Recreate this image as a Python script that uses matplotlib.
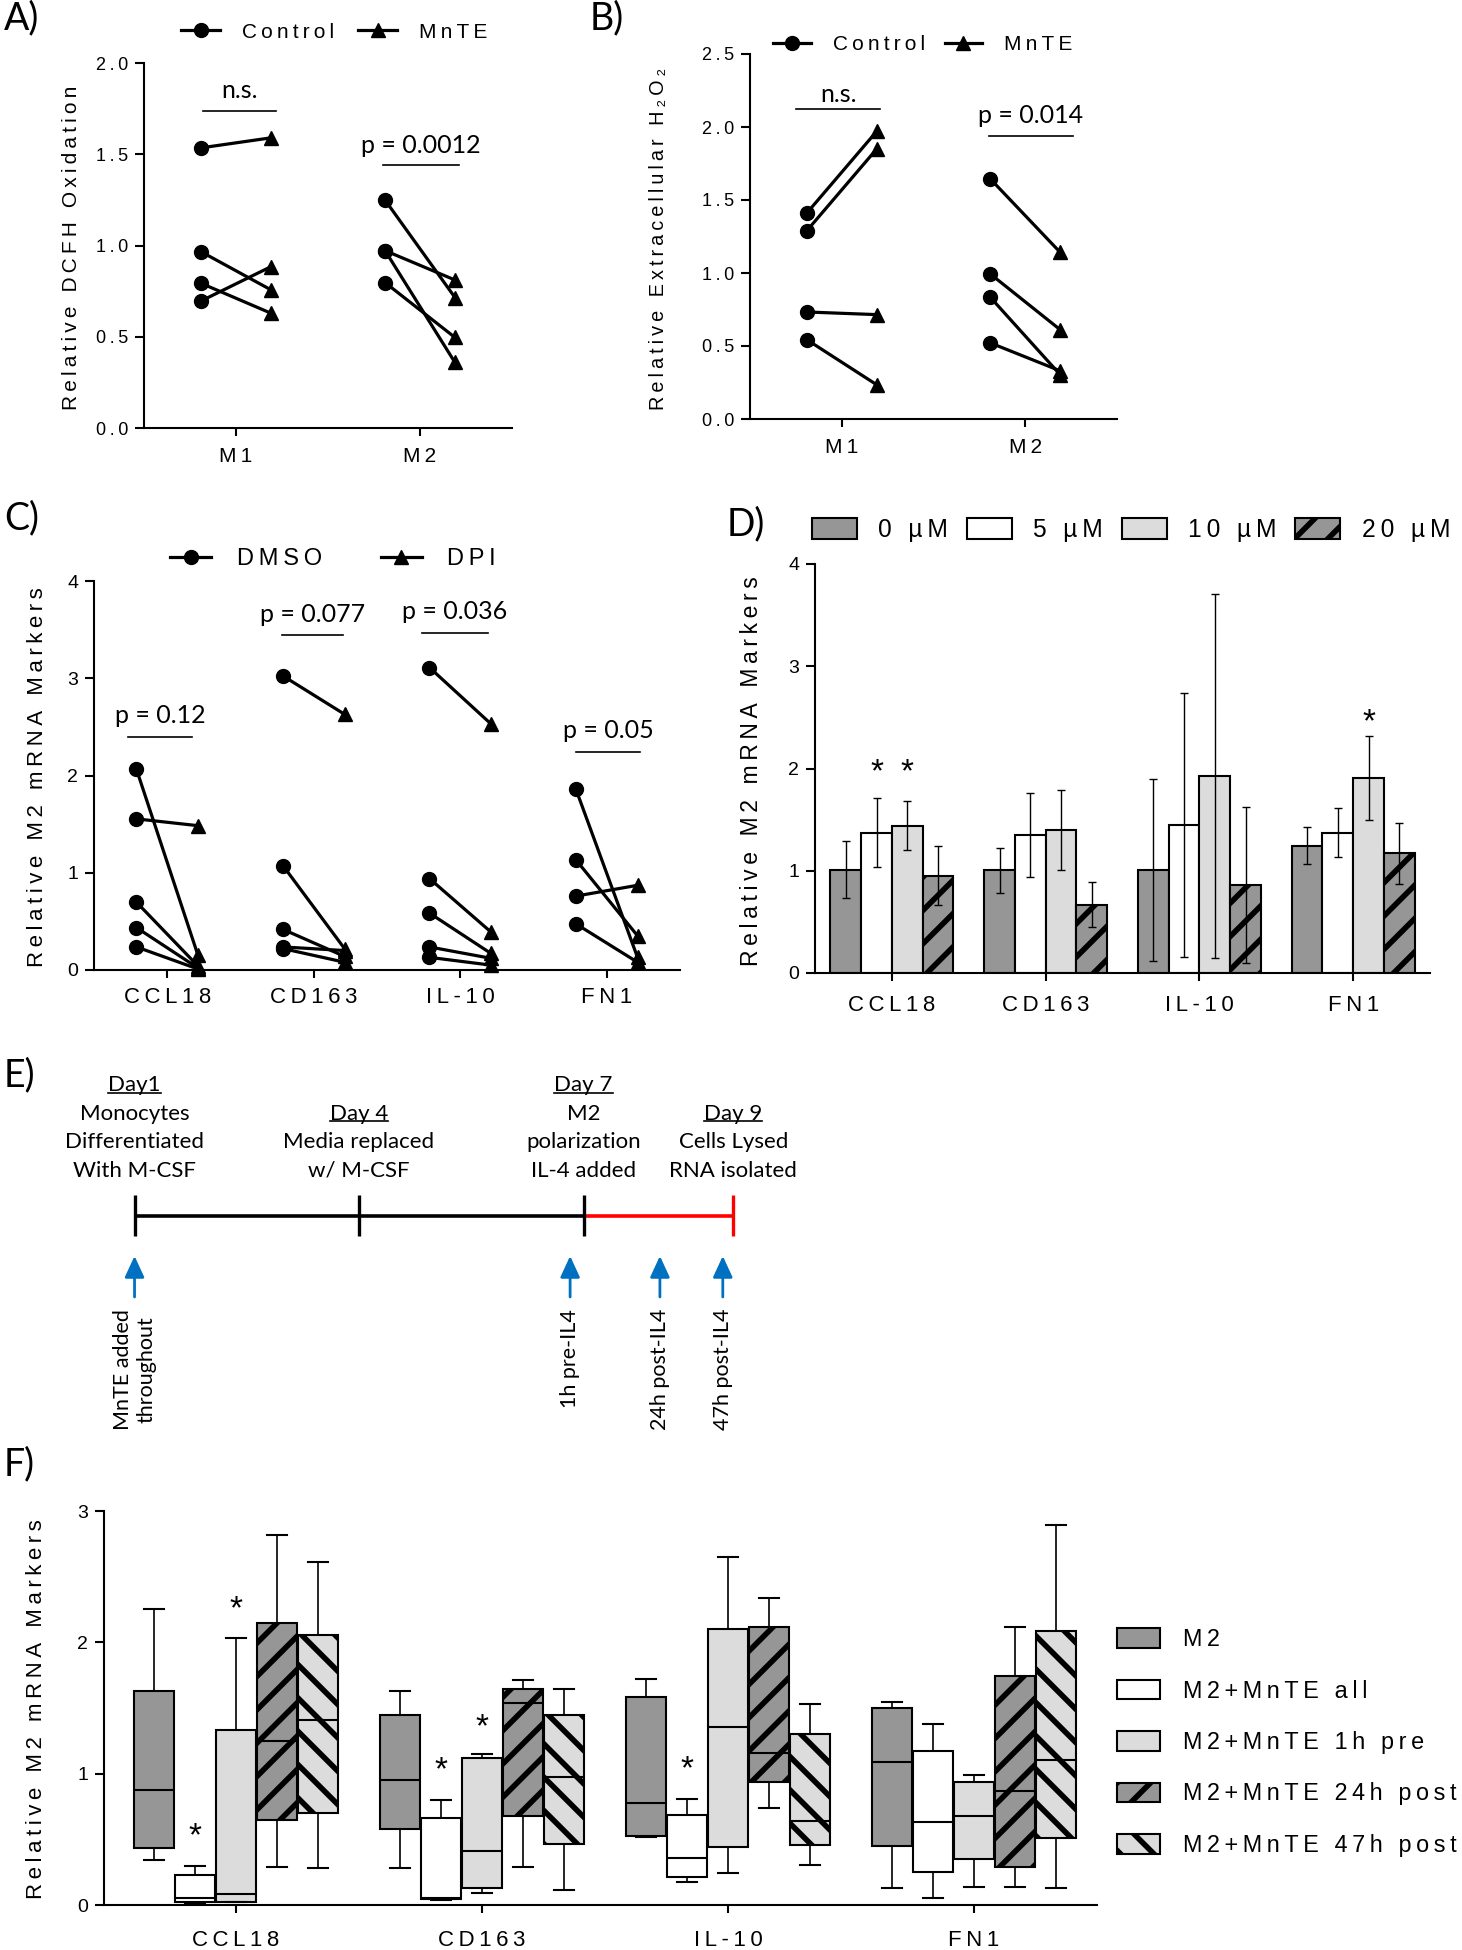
import matplotlib
matplotlib.use("Agg")
import matplotlib.pyplot as plt
import numpy as np
from matplotlib.lines import Line2D
from matplotlib.patches import Patch

# ---- data -------------------------------------------------------------
# A) DCFH oxidation, paired Control -> MnTE
A_groups = ["M1", "M2"]
A_ctrl = [[1.535, 0.966, 0.793, 0.696], [1.249, 0.972, 0.972, 0.797]]
A_mnte = [[1.59, 0.757, 0.629, 0.884], [0.715, 0.811, 0.359, 0.496]]
A_p_labels = ["n.s.", "p = 0.0012"]
A_p_y = [1.737, 1.44]

# B) extracellular H2O2
B_groups = ["M1", "M2"]
B_ctrl = [[1.411, 1.290, 0.733, 0.543], [1.644, 0.993, 0.833, 0.521]]
B_mnte = [[1.97, 1.849, 0.715, 0.235], [1.142, 0.612, 0.304, 0.33]]
B_p_labels = ["n.s.", "p = 0.014"]
B_p_y = [2.125, 1.94]

# C) DMSO vs DPI
genes = ["CCL18", "CD163", "IL-10", "FN1"]
C_dmso = [[2.063, 1.554, 0.697, 0.436, 0.237],
          [3.024, 1.073, 0.418, 0.237, 0.22],
          [3.11, 0.94, 0.585, 0.237, 0.13],
          [1.857, 1.132, 0.76, 0.474]]
C_dpi = [[0.15, 1.484, 0.04, 0.02, 0.01],
         [2.63, 0.22, 0.14, 0.2, 0.08],
         [2.53, 0.39, 0.17, 0.12, 0.05],
         [0.13, 0.352, 0.871, 0.08]]
C_p_labels = ["p = 0.12", "p = 0.077", "p = 0.036", "p = 0.05"]
C_p_y = [2.40, 3.44, 3.47, 2.24]

# D) MnTE dose response, mean +/- error
D_doses = ["0 µM", "5 µM", "10 µM", "20 µM"]
D_means = [[1.01, 1.003, 1.01, 1.246],
           [1.374, 1.347, 1.45, 1.374],
           [1.44, 1.40, 1.93, 1.91],
           [0.953, 0.667, 0.862, 1.17]]
D_err = [[0.28, 0.22, 0.89, 0.18],
         [0.34, 0.41, 1.29, 0.236],
         [0.24, 0.39, 1.78, 0.41],
         [0.29, 0.22, 0.76, 0.30]]
D_stars = [(0, 1, 2.05), (0, 2, 2.05), (3, 2, 2.535)]  # (gene, dose, y)

# E) timeline
E_days = [1, 4, 7, 9]
E_day_labels = ["Day1", "Day 4", "Day 7", "Day 9"]
E_descs = [["Monocytes", "Differentiated", "With M-CSF"],
           ["Media replaced", "w/ M-CSF"],
           ["M2", "polarization", "IL-4 added"],
           ["Cells Lysed", "RNA isolated"]]
E_treat_days = [1, 6.82, 8.02, 8.86]
E_treat_labels = ["MnTE added\nthroughout", "1h pre-IL4", "24h post-IL4", "47h post-IL4"]

# F) box plots per treatment timing
F_conds = ["M2", "M2+MnTE all", "M2+MnTE 1h pre", "M2+MnTE 24h post", "M2+MnTE 47h post"]
F_whishi = [[2.255, 1.633, 1.722, 1.544], [0.30, 0.803, 0.808, 1.379],
            [2.035, 1.146, 2.649, 0.99], [2.82, 1.714, 2.339, 2.116],
            [2.611, 1.641, 1.527, 2.89]]
F_q3 = [[1.633, 1.448, 1.582, 1.501], [0.231, 0.665, 0.686, 1.176],
        [1.336, 1.118, 2.103, 0.935], [2.149, 1.641, 2.116, 1.747],
        [2.057, 1.448, 1.303, 2.083]]
F_med = [[0.876, 0.953, 0.777, 1.092], [0.056, 0.05, 0.356, 0.63],
         [0.084, 0.414, 1.359, 0.681], [1.247, 1.539, 1.156, 0.871],
         [1.412, 0.978, 0.643, 1.107]]
F_q1 = [[0.432, 0.579, 0.528, 0.452], [0.025, 0.045, 0.211, 0.249],
        [0.025, 0.13, 0.439, 0.35], [0.648, 0.676, 0.94, 0.287],
        [0.701, 0.465, 0.457, 0.508]]
F_whislo = [[0.345, 0.282, 0.52, 0.13], [0.015, 0.04, 0.178, 0.051],
            [0.02, 0.091, 0.241, 0.135], [0.287, 0.287, 0.739, 0.135],
            [0.279, 0.117, 0.305, 0.127]]
F_stars = [(0, 1, 0.60), (0, 2, 2.33), (1, 1, 1.10), (1, 2, 1.43), (2, 1, 1.11)]

# ---- style ------------------------------------------------------------
ARIAL = ["Liberation Sans", "DejaVu Sans"]
CALIBRI = ["Lato", "DejaVu Sans"]
plt.rcParams["font.family"] = ARIAL
plt.rcParams["axes.linewidth"] = 1.5
plt.rcParams["hatch.linewidth"] = 4.0

DARK = "#969696"
LIGHT = "#dcdcdc"

W, H = 1462, 1950
fig = plt.figure(figsize=(W / 100, H / 100), dpi=100)


def ls(s):
    """letter-spaced text (the original uses wide tracking)"""
    return "\u2009".join(s)


def fxy(px, py):
    return px / W, 1 - py / H


def add_ax(x0, y0, x1, y1):
    return fig.add_axes([x0 / W, 1 - y1 / H, (x1 - x0) / W, (y1 - y0) / H])


def style(ax, yticks, yfmt, xlabels, ylabel, lab_xy, xs=15, ys=13, labsize=15, xpad=8):
    for s in ["top", "right"]:
        ax.spines[s].set_visible(False)
    ax.spines["left"].set_bounds(yticks[0], yticks[-1])
    ax.set_ylim(yticks[0], yticks[-1])
    ax.set_yticks(yticks)
    ax.set_yticklabels([ls(yfmt.format(v)) for v in yticks], fontsize=ys)
    ax.set_xticks(range(len(xlabels)))
    ax.set_xticklabels([ls(g) for g in xlabels], fontsize=xs)
    ax.tick_params(axis="y", width=1.5, length=6.5, pad=5)
    ax.tick_params(axis="x", width=1.5, length=6, pad=xpad)
    ax.set_ylabel(ylabel, fontsize=labsize, va="center")
    ax.yaxis.set_label_coords(*lab_xy)


def paired(ax, ctrl, trt, off):
    for g, (c, t) in enumerate(zip(ctrl, trt)):
        for a, b in zip(c, t):
            ax.plot([g - off, g + off], [a, b], color="k", lw=2.3, zorder=2, clip_on=False)
        ax.plot([g - off] * len(c), c, "o", color="k", ms=10, zorder=3, clip_on=False)
        ax.plot([g + off] * len(t), t, "^", color="k", ms=10.5, zorder=3, clip_on=False)


def sig(ax, g, lo, hi, y, label, dy):
    ax.plot([g + lo, g + hi], [y, y], color="k", lw=1.2)
    ax.text(g + (lo + hi) / 2, y + dy, label, family=CALIBRI, fontsize=18,
            ha="center", va="center")


def pair_legend(ax, names, anchor, fs, hl, pad, cs):
    hs = [Line2D([], [], color="k", lw=2.3, marker=m, ms=10) for m in ["o", "^"]]
    ax.legend(hs, [ls(n) for n in names], loc="center left", bbox_to_anchor=fxy(*anchor),
              bbox_transform=fig.transFigure, ncol=2, frameon=False, fontsize=fs,
              borderpad=0, borderaxespad=0, handlelength=hl, handletextpad=pad,
              columnspacing=cs)


def panel_label(px, py, s):
    fig.text(*fxy(px, py), s, family=CALIBRI, fontsize=27, ha="left", va="top")


# ---- A ----------------------------------------------------------------
axA = add_ax(144, 63, 512, 428)
paired(axA, A_ctrl, A_mnte, 0.19)
axA.set_xlim(-0.5, 1.5)
style(axA, [0, 0.5, 1.0, 1.5, 2.0], "{:.1f}", A_groups, ls("Relative DCFH Oxidation"),
      (-0.198, 0.4945))
sig(axA, 0, -0.18, 0.22, A_p_y[0], A_p_labels[0], 0.11)
sig(axA, 1, -0.2, 0.21, A_p_y[1], A_p_labels[1], 0.11)
pair_legend(axA, ["Control", "MnTE"], (181, 32), 15, 1.875, 1.06, 1.15)
panel_label(4, 0, "A)")

# ---- B ----------------------------------------------------------------
axB = add_ax(750, 54, 1117, 419)
paired(axB, B_ctrl, B_mnte, 0.19)
axB.set_xlim(-0.5, 1.5)
style(axB, [0, 0.5, 1.0, 1.5, 2.0, 2.5], "{:.1f}", B_groups,
      ls("Relative Extracellular ") + "\u2009H\u2009\u2082\u2009O\u2009\u2082",
      (-0.248, 0.492), labsize=14.3)
sig(axB, 0, -0.25, 0.21, B_p_y[0], B_p_labels[0], 0.1)
sig(axB, 1, -0.2, 0.26, B_p_y[1], B_p_labels[1], 0.14)
pair_legend(axB, ["Control", "MnTE"], (773, 45), 15, 1.8, 1.06, 0.96)
panel_label(590, 0, "B)")

# ---- C ----------------------------------------------------------------
axC = add_ax(94, 581, 680, 970)
paired(axC, C_dmso, C_dpi, 0.21)
axC.set_xlim(-0.5, 3.5)
style(axC, [0, 1, 2, 3, 4], "{:d}", genes, ls("Relative M2 mRNA Markers"),
      (-0.097, 0.495), xs=16, ys=14, labsize=16, xpad=6)
C_lines = [(-0.27, 0.17), (-0.22, 0.2), (-0.26, 0.19), (-0.21, 0.23)]
for g in range(len(genes)):
    sig(axC, g, C_lines[g][0], C_lines[g][1], C_p_y[g], C_p_labels[g], 0.22)
pair_legend(axC, ["DMSO", "DPI"], (170, 559), 17, 1.74, 1.08, 2.5)
panel_label(4, 500, "C)")

# ---- D ----------------------------------------------------------------
axD = add_ax(815, 564, 1430, 973)
x = np.arange(len(genes))
D_faces = [DARK, "white", LIGHT, DARK]
D_hatch = [None, None, None, "/"]
bar_w = 0.2
for k in range(len(D_doses)):
    off = (k - 1.5) * bar_w
    axD.bar(x + off, D_means[k], width=bar_w, color=D_faces[k], edgecolor="k",
            linewidth=1.5, hatch=D_hatch[k], label=ls(D_doses[k]), zorder=2)
    axD.errorbar(x + off, D_means[k], yerr=D_err[k], fmt="none", ecolor="k",
                 elinewidth=1, capsize=3, capthick=1, zorder=3)
for g, k, y in D_stars:
    axD.text(g + (k - 1.5) * bar_w, y - 0.09, "*", fontsize=24, ha="center", va="center")
axD.set_xlim(-0.5, 3.5)
style(axD, [0, 1, 2, 3, 4], "{:d}", genes, ls("Relative M2 mRNA Markers"),
      (-0.104, 0.494), xs=16, ys=14, labsize=16.5, xpad=10)
axD.legend(loc="center left", bbox_to_anchor=fxy(812, 530), bbox_transform=fig.transFigure,
           ncol=4, frameon=False, fontsize=17.7, borderpad=0, borderaxespad=0,
           handlelength=1.83, handleheight=0.9, handletextpad=0.87, columnspacing=0.76)
panel_label(727, 506, "D)")

# ---- E (timeline) -----------------------------------------------------
axE = add_ax(0, 1044, 810, 1440)
axE.set_xlim(-59.7 / 74.84, (810 - 59.7) / 74.84)
axE.set_ylim(1440, 1044)
axE.axis("off")
line_y, tick_h = 1216, 20.5
axE.plot([E_days[0], E_days[2]], [line_y, line_y], color="k", lw=2.6, solid_capstyle="butt")
axE.plot([E_days[2], E_days[3]], [line_y, line_y], color="red", lw=2.6, solid_capstyle="butt")
tick_cols = ["k", "k", "k", "red"]
axE.vlines(E_days, line_y - tick_h, line_y + tick_h, colors=tick_cols, lw=2.4)
day_texts = []
step, bottom = 28.5, 1171
for d, lab, desc in zip(E_days, E_day_labels, E_descs):
    lines = [lab] + desc
    y0 = bottom - step * (len(lines) - 1)
    for i, s in enumerate(lines):
        t = axE.text(d, y0 + i * step, s, family=CALIBRI, fontsize=16, ha="center", va="center")
        if i == 0:
            day_texts.append(t)
for d, lab in zip(E_treat_days, E_treat_labels):
    axE.annotate("", xy=(d, 1256), xytext=(d, 1297),
                 arrowprops=dict(arrowstyle="-|>,head_length=0.65,head_width=0.3",
                                 color="#0070C0", lw=2, mutation_scale=20,
                                 shrinkA=0, shrinkB=0))
    axE.text(d, 1309, lab, family=CALIBRI, fontsize=15.5, rotation=90,
             ha="center", va="top", multialignment="center")
panel_label(4, 1057, "E)")

# ---- F ----------------------------------------------------------------
axF = add_ax(104, 1511, 1097, 1905)
F_faces = [DARK, "white", LIGHT, DARK, LIGHT]
F_hatch = [None, None, None, "/", "\\"]
box_w = 0.167
for k in range(len(F_conds)):
    stats = []
    for g in range(len(genes)):
        stats.append(dict(med=F_med[k][g], q1=F_q1[k][g], q3=F_q3[k][g],
                          whislo=F_whislo[k][g], whishi=F_whishi[k][g]))
    pos = x + (k - 2) * box_w
    axF.bxp(stats, positions=pos, widths=box_w - 0.004, patch_artist=True,
            showfliers=False, manage_ticks=False, capwidths=0.08,
            boxprops=dict(facecolor=F_faces[k], edgecolor="k", linewidth=1.5, hatch=F_hatch[k]),
            medianprops=dict(color="k", linewidth=1.5),
            whiskerprops=dict(color="k", linewidth=1.2),
            capprops=dict(color="k", linewidth=1.5))
for g, k, y in F_stars:
    axF.text(g + (k - 2) * box_w, y - 0.08, "*", fontsize=24, ha="center", va="center")
axF.set_xlim(-0.536, 3.5)
style(axF, [0, 1, 2, 3], "{:d}", genes, ls("Relative M2 mRNA Markers"),
      (-0.0675, 0.497), xs=16, ys=14, labsize=16, xpad=12)
F_handles = [Patch(facecolor=F_faces[k], edgecolor="k", linewidth=1.5, hatch=F_hatch[k])
             for k in range(len(F_conds))]
axF.legend(F_handles, [ls(c) for c in F_conds], loc="center left",
           bbox_to_anchor=fxy(1117, 1742.5), bbox_transform=fig.transFigure,
           frameon=False, fontsize=16.8, borderpad=0, borderaxespad=0,
           handlelength=1.85, handleheight=0.9, handletextpad=0.99, labelspacing=1.22)
panel_label(4, 1446, "F)")

# underline the day headers in E
fig.canvas.draw()
inv = fig.transFigure.inverted()
for t in day_texts:
    bb = t.get_window_extent()
    (xa, ya), (xb, _) = inv.transform([(bb.x0, bb.y0 + 0.14 * bb.height), (bb.x1, bb.y0)])
    fig.add_artist(Line2D([xa, xb], [ya, ya], color="k", lw=1.2, transform=fig.transFigure))

fig.savefig("out.png", dpi=100)
